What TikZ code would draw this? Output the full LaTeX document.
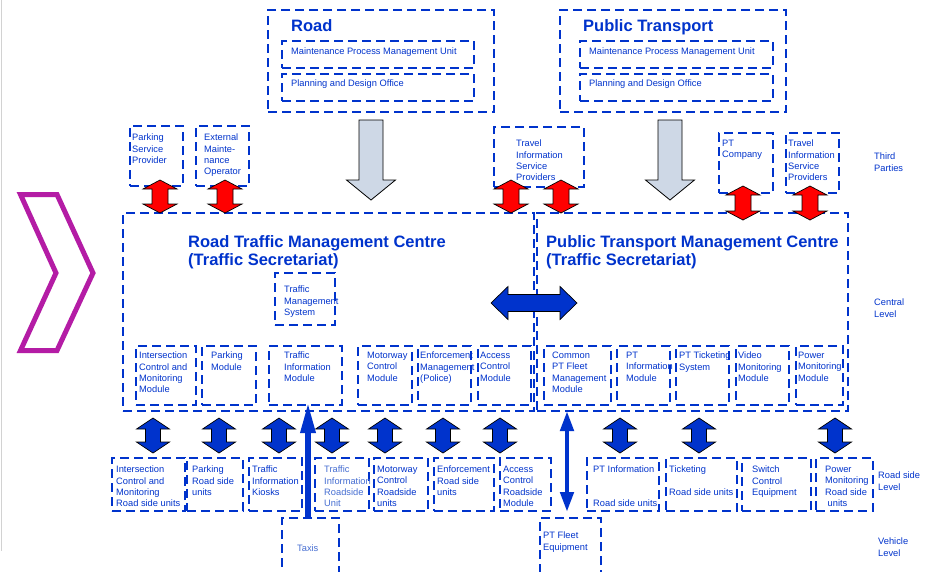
\documentclass[tikz,border=0pt]{standalone}
\usepackage{fontspec}
\setmainfont{Liberation Sans}
\usepackage{tikz}
\usetikzlibrary{arrows.meta, positioning, calc}

\definecolor{tblue}{RGB}{0, 51, 204}
\definecolor{lblue}{RGB}{70, 110, 210}
\definecolor{arrred}{RGB}{255, 0, 0}
\definecolor{arrgrey}{RGB}{206, 216, 230}
\definecolor{chevmag}{RGB}{180, 28, 165}

\tikzset{
  dbox/.style={draw=tblue, line width=2pt, dash pattern=on 9pt off 5pt, anchor=north west, inner sep=0pt, outer sep=0pt},
  lbl/.style={anchor=north west, inner sep=0pt, align=left, text=tblue, font=\fontsize{9.3}{11.2}\selectfont},
  ttl/.style={lbl, font=\fontsize{16.5}{18.5}\selectfont\bfseries},
  redarr/.style={draw=black, fill=arrred, line width=0.7pt, line join=miter},
  bluearr/.style={draw=black, fill=tblue, line width=0.7pt, line join=miter},
  greyarr/.style={draw=black, fill=arrgrey, line width=0.8pt, line join=miter},
  thinarr/.style={draw=tblue, line width=6pt, -{Triangle[length=31pt, width=14pt]}},
  fleetarr/.style={draw=tblue, line width=4.5pt, {Triangle[length=20pt, width=13pt]}-{Triangle[length=20pt, width=13pt]}},
  % #1 half length, #2 head half width, #3 shaft half width, #4 head length
  pics/dblarrow/.style n args={4}{code={
    \path[pic actions] (0,-#1) -- (#2,-#1+#4) -- (#3,-#1+#4) -- (#3,#1-#4) -- (#2,#1-#4) -- (0,#1)
      -- (-#2,#1-#4) -- (-#3,#1-#4) -- (-#3,-#1+#4) -- (-#2,-#1+#4) -- cycle;
  }},
  pics/downarrow/.style={code={
    \path[pic actions] (-12,0) -- (12,0) -- (12,60) -- (24.5,60) -- (0,80) -- (-24.5,60) -- (-12,60) -- cycle;
  }},
}

\begin{document}
\begin{tikzpicture}[x=1pt, y=-1pt]
  \fill[white] (0,0) rectangle (930,571);
  \useasboundingbox (0,0) rectangle (930,571);
  \draw[gray!35, line width=0.8pt] (1,0) -- (1,551);

  % Chevron
  \draw[chevmag, line width=5pt, line join=miter] (20.5,194.5) -- (57,194.5) -- (93,273) -- (57,350.5) -- (20.5,350.5) -- (56,273) -- cycle;

  % Authorities
  \node[dbox, minimum width=226pt, minimum height=102pt] (road) at (268,10) {};
  \node[ttl] (road-l) at ([shift={(23,9)}]road.north west) {Road};
  \node[dbox, minimum width=192pt, minimum height=27pt] (roadmpu) at (282,41) {};
  \node[lbl] (roadmpu-l) at ([shift={(9,6.5)}]roadmpu.north west) {Maintenance Process Management Unit};
  \node[dbox, minimum width=192pt, minimum height=27pt] (roadpdo) at (282,74) {};
  \node[lbl] (roadpdo-l) at ([shift={(9,6)}]roadpdo.north west) {Planning and Design Office};

  \node[dbox, minimum width=226pt, minimum height=102pt] (pt) at (560,10) {};
  \node[ttl] (pt-l) at ([shift={(23,9)}]pt.north west) {Public Transport};
  \node[dbox, minimum width=193pt, minimum height=27pt] (ptmpu) at (580,41) {};
  \node[lbl] (ptmpu-l) at ([shift={(9,6.5)}]ptmpu.north west) {Maintenance Process Management Unit};
  \node[dbox, minimum width=193pt, minimum height=27pt] (ptpdo) at (580,74) {};
  \node[lbl] (ptpdo-l) at ([shift={(9,6)}]ptpdo.north west) {Planning and Design Office};

  \pic[greyarr] at (371,120) {downarrow};
  \pic[greyarr] at (670,120) {downarrow};

  % Third parties
  \node[dbox, minimum width=53pt, minimum height=60pt] (parksp) at (130,126) {};
  \node[lbl] (parksp-l) at ([shift={(2,8)}]parksp.north west) {Parking\\Service\\Provider};
  \node[dbox, minimum width=53pt, minimum height=60pt] (extmo) at (196,126) {};
  \node[lbl] (extmo-l) at ([shift={(8,8)}]extmo.north west) {External\\Mainte-\\nance\\Operator};
  \node[dbox, minimum width=90pt, minimum height=60pt] (tisp) at (494,127) {};
  \node[lbl] (tisp-l) at ([shift={(22,13)}]tisp.north west) {Travel\\Information\\Service\\Providers};
  \node[dbox, minimum width=54pt, minimum height=60pt] (ptco) at (719,133) {};
  \node[lbl] (ptco-l) at ([shift={(3,7)}]ptco.north west) {PT\\Company};
  \node[dbox, minimum width=53pt, minimum height=60pt] (tisp2) at (786,133) {};
  \node[lbl] (tisp2-l) at ([shift={(2,7)}]tisp2.north west) {Travel\\Information\\Service\\Providers};

  % Management centres
  \node[dbox, minimum width=411pt, minimum height=198pt] (rtmc) at (123,213) {};
  \node[ttl] (rtmc-l) at ([shift={(65,22)}]rtmc.north west) {Road Traffic Management Centre\\(Traffic Secretariat)};
  \node[dbox, minimum width=311pt, minimum height=198pt] (ptmc) at (537,213) {};
  \node[ttl] (ptmc-l) at ([shift={(9,22)}]ptmc.north west) {Public Transport Management Centre\\(Traffic Secretariat)};
  \node[dbox, minimum width=60pt, minimum height=52pt] (tms) at (275,273) {};
  \node[lbl] (tms-l) at ([shift={(9,13)}]tms.north west) {Traffic\\Management\\System};

  \pic[redarr] at (160,196.5) {dblarrow={16.5}{17}{8}{9}};
  \pic[redarr] at (225,196.5) {dblarrow={16.5}{17}{8}{9}};
  \pic[redarr] at (511,196.5) {dblarrow={16.5}{17}{8}{9}};
  \pic[redarr] at (561,196.5) {dblarrow={16.5}{17}{8}{9}};
  \pic[redarr] at (743,203) {dblarrow={17}{17}{8}{9}};
  \pic[redarr] at (810,203) {dblarrow={17}{17}{8}{9}};
  \pic[bluearr, rotate=90] at (534,303) {dblarrow={43}{16.5}{8.5}{17}};

  % Modules
  \node[dbox, minimum width=60pt, minimum height=59pt] (isect) at (136,346) {};
  \node[lbl] (isect-l) at ([shift={(3,6)}]isect.north west) {Intersection\\Control and\\Monitoring\\Module};
  \node[dbox, minimum width=54pt, minimum height=59pt] (parkmod) at (202,346) {};
  \node[lbl] (parkmod-l) at ([shift={(9,6)}]parkmod.north west) {Parking\\Module};
  \node[dbox, minimum width=73pt, minimum height=59pt] (timod) at (269,346) {};
  \node[lbl] (timod-l) at ([shift={(15,6)}]timod.north west) {Traffic\\Information\\Module};
  \node[dbox, minimum width=54pt, minimum height=59pt] (mwmod) at (358,346) {};
  \node[lbl] (mwmod-l) at ([shift={(9,6)}]mwmod.north west) {Motorway\\Control\\Module};
  \node[dbox, minimum width=53pt, minimum height=59pt] (enfmod) at (418,346) {};
  \node[lbl] (enfmod-l) at ([shift={(2,6)}]enfmod.north west) {Enforcement\\Management\\(Police)};
  \node[dbox, minimum width=53pt, minimum height=59pt] (accmod) at (478,346) {};
  \node[lbl] (accmod-l) at ([shift={(2,6)}]accmod.north west) {Access\\Control\\Module};
  \node[dbox, minimum width=67pt, minimum height=59pt] (cptf) at (544,346) {};
  \node[lbl] (cptf-l) at ([shift={(8,6)}]cptf.north west) {Common\\PT Fleet\\Management\\Module};
  \node[dbox, minimum width=53pt, minimum height=59pt] (ptinfo) at (617,346) {};
  \node[lbl] (ptinfo-l) at ([shift={(9,6)}]ptinfo.north west) {PT\\Information\\Module};
  \node[dbox, minimum width=53pt, minimum height=59pt] (ptticket) at (676,346) {};
  \node[lbl] (ptticket-l) at ([shift={(3,6)}]ptticket.north west) {PT Ticketing\\System};
  \node[dbox, minimum width=53pt, minimum height=59pt] (video) at (736,346) {};
  \node[lbl] (video-l) at ([shift={(2,6)}]video.north west) {Video\\Monitoring\\Module};
  \node[dbox, minimum width=47pt, minimum height=59pt] (power) at (796,346) {};
  \node[lbl] (power-l) at ([shift={(2,6)}]power.north west) {Power\\Monitoring\\Module};

  % Road side units
  \node[dbox, minimum width=73pt, minimum height=53pt] (isectrs) at (112,458) {};
  \node[lbl] (isectrs-l) at ([shift={(4,8)}]isectrs.north west) {Intersection\\Control and\\Monitoring\\Road side units};
  \node[dbox, minimum width=56pt, minimum height=53pt] (parkrs) at (187,458) {};
  \node[lbl] (parkrs-l) at ([shift={(5,8)}]parkrs.north west) {Parking\\Road side\\units};
  \node[dbox, minimum width=53pt, minimum height=53pt] (kiosk) at (249,458) {};
  \node[lbl] (kiosk-l) at ([shift={(3,8)}]kiosk.north west) {Traffic\\Information\\Kiosks};
  \node[dbox, minimum width=54pt, minimum height=53pt] (tirsu) at (315,458) {};
  \node[lbl, text=lblue] (tirsu-l) at ([shift={(9,8)}]tirsu.north west) {Traffic\\Information\\Roadside\\Unit};
  \node[dbox, minimum width=54pt, minimum height=53pt] (mwrs) at (374,458) {};
  \node[lbl] (mwrs-l) at ([shift={(3,8)}]mwrs.north west) {Motorway\\Control\\Roadside\\units};
  \node[dbox, minimum width=60pt, minimum height=53pt] (enfrs) at (434,458) {};
  \node[lbl] (enfrs-l) at ([shift={(3,8)}]enfrs.north west) {Enforcement\\Road side\\units};
  \node[dbox, minimum width=51pt, minimum height=53pt] (accrs) at (500,458) {};
  \node[lbl] (accrs-l) at ([shift={(3,8)}]accrs.north west) {Access\\Control\\Roadside\\Module};
  \node[dbox, minimum width=72pt, minimum height=53pt] (ptinfors) at (587,458) {};
  \node[lbl] (ptinfors-l) at ([shift={(6,8)}]ptinfors.north west) {PT Information\\[22.4pt]Road side units};
  \node[dbox, minimum width=71pt, minimum height=53pt] (ticketrs) at (666,458) {};
  \node[lbl] (ticketrs-l) at ([shift={(3,8)}]ticketrs.north west) {Ticketing\\[11.2pt]Road side units};
  \node[dbox, minimum width=69pt, minimum height=53pt] (switch) at (742,458) {};
  \node[lbl] (switch-l) at ([shift={(10,8)}]switch.north west) {Switch\\Control\\Equipment};
  \node[dbox, minimum width=57pt, minimum height=53pt] (powerrs) at (816,458) {};
  \node[lbl] (powerrs-l) at ([shift={(9,8)}]powerrs.north west) {Power\\Monitoring\\Road side\\\hspace*{2.5pt}units};

  \foreach \xa in {153, 219, 279, 332, 385, 443, 500, 620, 699, 835}
    \pic[bluearr] at (\xa,435.5) {dblarrow={17.5}{16.5}{7.5}{11}};

  % Vehicles
  \node[dbox, minimum width=57pt, minimum height=56pt] (taxis) at (282,518) {};
  \node[lbl, text=lblue] (taxis-l) at ([shift={(15,27)}]taxis.north west) {Taxis};
  \node[dbox, minimum width=61pt, minimum height=56pt] (ptfleet) at (540,518) {};
  \node[lbl] (ptfleet-l) at ([shift={(3,14)}]ptfleet.north west) {PT Fleet\\Equipment};

  \draw[thinarr] ([xshift=-2.5pt]taxis.north) -- ([xshift=-2.5pt, yshift=3pt]taxis.north |- timod.south);
  \draw[fleetarr] ([xshift=-3.5pt, yshift=6pt]ptfleet.north) -- ([xshift=-3.5pt]ptfleet.north |- ptmc.south);

  % Levels
  \node[lbl] (lvlthird) at (874,153) {Third\\Parties};
  \node[lbl] (lvlcentral) at (874,299) {Central\\Level};
  \node[lbl] (lvlroad) at (878,472) {Road side\\Level};
  \node[lbl] (lvlvehicle) at (878,538) {Vehicle\\Level};
\end{tikzpicture}
\end{document}
